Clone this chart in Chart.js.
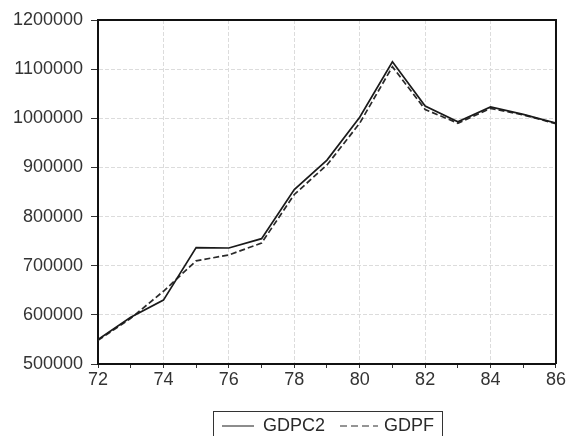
<!DOCTYPE html>
<html>
<head>
<meta charset="utf-8">
<script src="https://cdn.jsdelivr.net/npm/chart.js@4.4.0/dist/chart.umd.min.js"></script>
<style>
  html, body { margin: 0; padding: 0; background: #fff; }
  #wrap { width: 567px; height: 436px; }
</style>
</head>
<body>
<div id="wrap"><canvas id="chart" width="567" height="436"></canvas></div>
<script>
// data
const years = [72, 73, 74, 75, 76, 77, 78, 79, 80, 81, 82, 83, 84, 85, 86];
const gdpc2 = [550000, 595000, 630000, 737000, 736000, 755000, 855000, 915000, 1002000, 1115000, 1025000, 993000, 1023000, 1008000, 990000];
const gdpf  = [548000, 593000, 648000, 710000, 722000, 746000, 845000, 905000, 990000, 1105000, 1018000, 990000, 1020000, 1007000, 989000];
const yTicks = [500000, 600000, 700000, 800000, 900000, 1000000, 1100000, 1200000];

const FONT = { family: 'Arial, "Liberation Sans", sans-serif', size: 18 };
const GRID = '#dcdcdc';

function toPoints(vals) {
    return years.map((y, i) => ({ x: y, y: vals[i] }));
}

// frame on top/right + boxed legend under the plot
const framePlugin = {
    id: 'frame',
    afterDraw(chart) {
        const ctx = chart.ctx;
        const a = chart.chartArea;
        ctx.save();
        ctx.strokeStyle = '#111';
        ctx.lineWidth = 2;
        ctx.beginPath();
        ctx.moveTo(a.left, a.top);
        ctx.lineTo(a.right, a.top);
        ctx.lineTo(a.right, a.bottom);
        ctx.stroke();

        // legend
        const left = 213, boxW = 229, boxTop = 411;
        ctx.lineWidth = 1;
        ctx.strokeStyle = '#333';
        ctx.strokeRect(left + 0.5, boxTop + 0.5, boxW, 40);

        const ty = boxTop + 15;
        ctx.font = FONT.size + 'px ' + FONT.family;
        ctx.fillStyle = '#2a2a2a';
        ctx.textBaseline = 'middle';
        const items = [
            { x0: 222, x1: 254, tx: 263 },
            { x0: 340, x1: 378, tx: 384 }
        ];
        chart.data.datasets.forEach((ds, i) => {
            const it = items[i];
            ctx.strokeStyle = ds.borderColor;
            ctx.lineWidth = 1;
            ctx.setLineDash(ds.borderDash ? [7, 4] : []);
            ctx.beginPath();
            ctx.moveTo(it.x0, ty);
            ctx.lineTo(it.x1, ty);
            ctx.stroke();
            ctx.setLineDash([]);
            ctx.fillText(ds.label, it.tx, ty);
        });
        ctx.restore();
    }
};

new Chart(document.getElementById('chart'), {
    type: 'line',
    data: {
        datasets: [
            {
                label: 'GDPC2',
                data: toPoints(gdpc2),
                borderColor: '#1a1a1a',
                borderWidth: 1.7,
                pointRadius: 0,
                tension: 0
            },
            {
                label: 'GDPF',
                data: toPoints(gdpf),
                borderColor: '#2a2a2a',
                borderWidth: 1.7,
                borderDash: [6, 3],
                pointRadius: 0,
                tension: 0
            }
        ]
    },
    options: {
        responsive: false,
        animation: false,
        layout: { padding: { left: 0, top: 20, right: 11, bottom: 42 } },
        plugins: {
            legend: { display: false },
            tooltip: { enabled: false }
        },
        scales: {
            x: {
                type: 'linear',
                min: 72,
                max: 86,
                afterFit(scale) { scale.height = 30; },
                ticks: {
                    stepSize: 1,
                    autoSkip: false,
                    maxRotation: 0,
                    padding: 1,
                    color: '#333',
                    font: FONT,
                    callback: v => (v % 2 === 0 ? String(v) : '')
                },
                grid: {
                    color: c => (c.tick && c.tick.value % 2 === 0 && c.tick.value !== 72 && c.tick.value !== 86 ? GRID : 'rgba(0,0,0,0)'),
                    tickColor: '#333',
                    tickLength: 4,
                    lineWidth: 1,
                    tickBorderDash: []
                },
                // dash applies to the grid lines, the axis line stays solid
                border: { color: '#111', width: 2, dash: [4, 2] }
            },
            y: {
                min: 500000,
                max: 1200000,
                afterFit(scale) { scale.width = 98; },
                afterBuildTicks(scale) { scale.ticks = yTicks.map(v => ({ value: v })); },
                ticks: {
                    padding: 8,
                    color: '#333',
                    font: FONT,
                    callback: v => String(v)
                },
                grid: {
                    color: c => (c.tick && (c.tick.value === 500000 || c.tick.value === 1200000) ? 'rgba(0,0,0,0)' : GRID),
                    tickColor: '#333',
                    tickLength: 7,
                    lineWidth: 1,
                    tickBorderDash: []
                },
                border: { color: '#111', width: 2, dash: [4, 2] }
            }
        }
    },
    plugins: [framePlugin]
});
</script>
</body>
</html>
